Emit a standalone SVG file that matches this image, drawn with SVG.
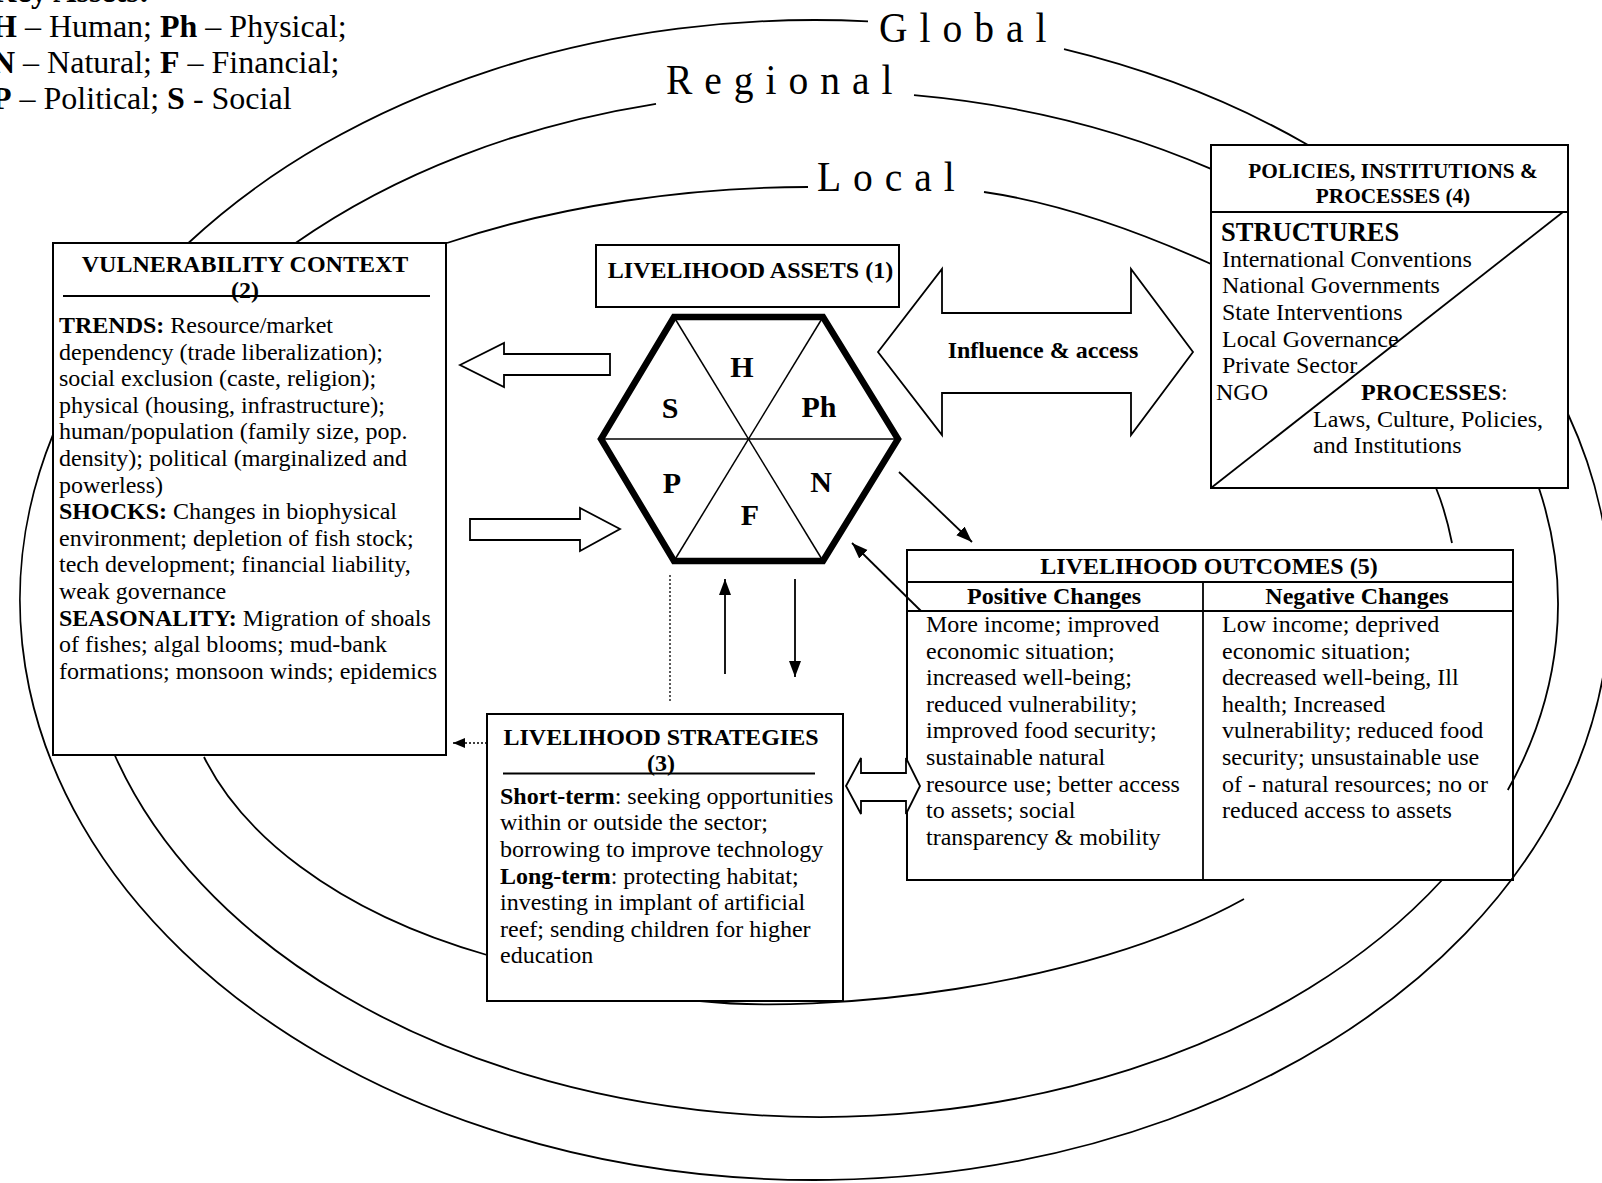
<svg xmlns="http://www.w3.org/2000/svg" width="1602" height="1183" viewBox="0 0 1602 1183">
<style>
.t{font-family:"Liberation Serif","Times New Roman",serif;font-size:24px;fill:#000}
.b{font-weight:bold}
.m{text-anchor:middle}
.box{fill:#fff;stroke:#000;stroke-width:2}
.ring{fill:none;stroke:#000;stroke-width:1.8}
.ln{fill:none;stroke:#000;stroke-width:1.8}
.blk{fill:#fff;stroke:#000;stroke-width:1.8;stroke-linejoin:miter}
.k{font-size:32px}
.rl{font-size:43px;letter-spacing:13px}
.hx{font-size:30px;font-weight:bold}
.pt{font-size:21.3px}
.st{font-size:26.5px}
</style>
<defs>
<marker id="ah" markerUnits="userSpaceOnUse" markerWidth="18" markerHeight="14" refX="16" refY="6" orient="auto">
<path d="M0,0 L16,6 L0,12 z" fill="#000"/>
</marker>
<marker id="ahs" markerUnits="userSpaceOnUse" markerWidth="14" markerHeight="12" refX="12" refY="5" orient="auto">
<path d="M0,0 L12,5 L0,10 z" fill="#000"/>
</marker>
</defs>
<rect width="1602" height="1183" fill="#fff"/>

<g id="key-assets">
<text class="t k b" x="-8" y="2">Key Assets:</text>
<text class="t k" x="-8" y="37.3"><tspan class="b">H</tspan> – Human; <tspan class="b">Ph</tspan> – Physical;</text>
<text class="t k" x="-8" y="73"><tspan class="b">N</tspan> – Natural; <tspan class="b">F</tspan> – Financial;</text>
<text class="t k" x="-8" y="108.7"><tspan class="b">P</tspan> – Political; <tspan class="b">S</tspan> - Social</text>
</g>

<g id="scale-labels">
<text class="t rl" transform="translate(879,42) scale(0.92,1)">Global</text>
<text class="t rl" transform="translate(666,94) scale(0.92,1)">Regional</text>
<text class="t rl" transform="translate(817,191) scale(0.92,1)">Local</text>
</g>

<g id="vulnerability-context">
<rect class="box" x="53" y="243" width="393" height="512"/>
<text class="t b m" x="245" y="272">VULNERABILITY CONTEXT</text>
<text class="t b m" x="245" y="298">(2)</text>
<line class="ln" x1="63" y1="296" x2="430" y2="296"/>
<text class="t" x="59" y="333"><tspan class="b">TRENDS:</tspan> Resource/market</text>
<text class="t" x="59" y="359.6">dependency (trade liberalization);</text>
<text class="t" x="59" y="386.2">social exclusion (caste, religion);</text>
<text class="t" x="59" y="412.8">physical (housing, infrastructure);</text>
<text class="t" x="59" y="439.4">human/population (family size, pop.</text>
<text class="t" x="59" y="466">density); political (marginalized and</text>
<text class="t" x="59" y="492.6">powerless)</text>
<text class="t" x="59" y="519.2"><tspan class="b">SHOCKS:</tspan> Changes in biophysical</text>
<text class="t" x="59" y="545.8">environment; depletion of fish stock;</text>
<text class="t" x="59" y="572.4">tech development; financial liability,</text>
<text class="t" x="59" y="599">weak governance</text>
<text class="t" x="59" y="625.6"><tspan class="b">SEASONALITY:</tspan> Migration of shoals</text>
<text class="t" x="59" y="652.2">of fishes; algal blooms; mud-bank</text>
<text class="t" x="59" y="678.8">formations; monsoon winds; epidemics</text>
</g>

<g id="livelihood-assets">
<rect class="box" x="596" y="245" width="303" height="62"/>
<text class="t b m" x="750.5" y="277.5">LIVELIHOOD ASSETS (1)</text>
<g id="asset-hexagon">
<polygon points="674,317 823,317 898,439 823,561 674,561 601,439" fill="#fff" stroke="#000" stroke-width="6.5" stroke-linejoin="miter"/>
<line x1="674" y1="317" x2="823" y2="561" stroke="#000" stroke-width="1.5"/>
<line x1="823" y1="317" x2="674" y2="561" stroke="#000" stroke-width="1.5"/>
<line x1="601" y1="439" x2="898" y2="439" stroke="#000" stroke-width="1.5"/>
<text class="t hx m" x="742" y="377">H</text>
<text class="t hx m" x="670" y="418">S</text>
<text class="t hx m" x="819" y="417">Ph</text>
<text class="t hx m" x="672" y="493">P</text>
<text class="t hx m" x="821" y="492">N</text>
<text class="t hx m" x="750" y="525">F</text>
</g>
</g>

<g id="policies-institutions-processes">
<rect class="box" x="1211" y="145" width="357" height="343" stroke-width="2.3"/>
<line class="ln" x1="1211" y1="212" x2="1568" y2="212" stroke-width="2.3"/>
<line class="ln" x1="1211" y1="488" x2="1563" y2="212"/>
<text class="t b m pt" x="1393" y="178">POLICIES, INSTITUTIONS &amp;</text>
<text class="t b m pt" x="1393" y="203">PROCESSES (4)</text>
<text class="t b st" x="1221" y="241">STRUCTURES</text>
<text class="t" x="1222" y="266.7">International Conventions</text>
<text class="t" x="1222" y="293">National Governments</text>
<text class="t" x="1222" y="320">State Interventions</text>
<text class="t" x="1222" y="346.7">Local Governance</text>
<text class="t" x="1222" y="373.3">Private Sector</text>
<text class="t" x="1216" y="400">NGO</text>
<text class="t" x="1361" y="400"><tspan class="b">PROCESSES</tspan>:</text>
<text class="t" x="1313" y="426.7">Laws, Culture, Policies,</text>
<text class="t" x="1313" y="453.3">and Institutions</text>
</g>

<g id="livelihood-outcomes">
<rect class="box" x="907" y="550" width="606" height="330" stroke-width="2.3"/>
<line class="ln" x1="907" y1="582" x2="1513" y2="582" stroke-width="2.3"/>
<line class="ln" x1="907" y1="611" x2="1513" y2="611" stroke-width="2.3"/>
<line class="ln" x1="1203" y1="582" x2="1203" y2="880" stroke-width="2.3"/>
<text class="t b m" x="1209" y="574">LIVELIHOOD OUTCOMES (5)</text>
<text class="t b m" x="1054" y="604">Positive Changes</text>
<text class="t b m" x="1357" y="604">Negative Changes</text>
<text class="t" x="926" y="632">More income; improved</text>
<text class="t" x="926" y="658.6">economic situation;</text>
<text class="t" x="926" y="685.2">increased well-being;</text>
<text class="t" x="926" y="711.8">reduced vulnerability;</text>
<text class="t" x="926" y="738.4">improved food security;</text>
<text class="t" x="926" y="765">sustainable natural</text>
<text class="t" x="926" y="791.6">resource use; better access</text>
<text class="t" x="926" y="818.2">to assets; social</text>
<text class="t" x="926" y="844.8">transparency &amp; mobility</text>
<text class="t" x="1222" y="632">Low income; deprived</text>
<text class="t" x="1222" y="658.6">economic situation;</text>
<text class="t" x="1222" y="685.2">decreased well-being, Ill</text>
<text class="t" x="1222" y="711.8">health; Increased</text>
<text class="t" x="1222" y="738.4">vulnerability; reduced food</text>
<text class="t" x="1222" y="765">security; unsustainable use</text>
<text class="t" x="1222" y="791.6">of - natural resources; no or</text>
<text class="t" x="1222" y="818.2">reduced access to assets</text>
</g>

<g id="livelihood-strategies">
<rect class="box" x="487" y="714" width="356" height="287"/>
<text class="t b m" x="661" y="745">LIVELIHOOD STRATEGIES</text>
<text class="t b m" x="661" y="771">(3)</text>
<line class="ln" x1="503" y1="773.5" x2="815" y2="773.5"/>
<text class="t" x="500" y="803.7"><tspan class="b">Short-term</tspan>: seeking opportunities</text>
<text class="t" x="500" y="830.3">within or outside the sector;</text>
<text class="t" x="500" y="856.9">borrowing to improve technology</text>
<text class="t" x="500" y="883.5"><tspan class="b">Long-term</tspan>: protecting habitat;</text>
<text class="t" x="500" y="910.1">investing in implant of artificial</text>
<text class="t" x="500" y="936.7">reef; sending children for higher</text>
<text class="t" x="500" y="963.3">education</text>
</g>

<g id="connectors">
<polygon class="blk" points="460,365 504,343 504,354 610,354 610,375 504,375 504,387"/>
<polygon class="blk" points="470,519 580,519 580,508 620,529 580,551 580,540 470,540"/>
<polygon class="blk" points="878,352 942,269 942,313 1131,313 1131,269 1193,352 1131,435 1131,393 942,393 942,435"/>
<text class="t b m" x="1043" y="358">Influence &amp; access</text>
<polygon class="blk" points="846,786 861,758 861,773 906,773 906,758 920,786 906,814 906,801 861,801 861,814"/>
<line class="ln" x1="899" y1="472" x2="972" y2="542" marker-end="url(#ah)"/>
<line class="ln" x1="921" y1="611" x2="852" y2="543" marker-end="url(#ah)"/>
<line class="ln" x1="725" y1="674" x2="725" y2="579" marker-end="url(#ah)"/>
<line class="ln" x1="795" y1="579" x2="795" y2="677" marker-end="url(#ah)"/>
<line x1="670" y1="575" x2="670" y2="703" stroke="#000" stroke-width="1.3" stroke-dasharray="2,2"/>
<line x1="487" y1="743" x2="453" y2="743" stroke="#000" stroke-width="1.3" stroke-dasharray="2,2" marker-end="url(#ahs)"/>
</g>

<g id="rings">
<path class="ring" d="M1064,49.2 A795 580 0 0 1 1308,145"/>
<path class="ring" d="M1568,414 A795 580 0 1 1 53,434.6"/>
<path class="ring" d="M188.4,243 A795 580 0 0 1 868,21.3"/>
<path class="ring" d="M295.6,243 A738 513 0 0 1 656,103.8"/>
<path class="ring" d="M914,95.2 A738 513 0 0 1 1211,168.9"/>
<path class="ring" d="M1538.9,488 A738 513 0 0 1 1507.8,790"/>
<path class="ring" d="M1442.1,880 A738 513 0 0 1 114.7,755"/>
<path class="ring" d="M447,243 C560,205 690,187 808,187"/>
<path class="ring" d="M984,192 C1060,203 1140,232 1211,264"/>
<path class="ring" d="M1436,488 C1443,505 1448,523 1452,543"/>
<path class="ring" d="M204,757 C240,830 330,910 487,955"/>
<path class="ring" d="M700,1001 C820,1014 1080,990 1244,899"/>
</g>
</svg>
